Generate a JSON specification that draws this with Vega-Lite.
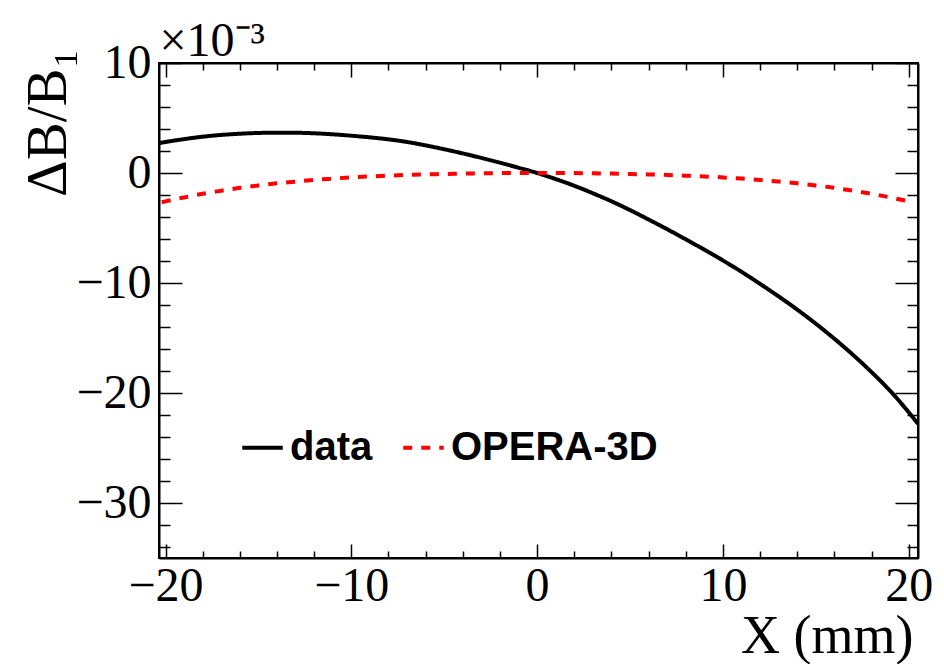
{
  "$schema": "https://vega.github.io/schema/vega-lite/v6.json",
  "width": 759,
  "height": 495,
  "autosize": "none",
  "padding": {"left": 159, "top": 63, "right": 26, "bottom": 106},
  "background": "white",
  "config": {
    "view": {"stroke": "black", "strokeWidth": 2},
    "axis": {
      "grid": false,
      "domainColor": "black",
      "domainWidth": 2,
      "tickColor": "black",
      "tickWidth": 1.5,
      "labelFont": "Liberation Serif",
      "labelFontSize": 48,
      "labelColor": "black",
      "labelFlush": false,
      "labelOverlap": false,
      "titleFont": "Liberation Serif",
      "titleFontSize": 57,
      "titleFontWeight": "normal",
      "titleColor": "black"
    },
    "legend": {
      "orient": "none",
      "legendX": 81,
      "legendY": 362,
      "direction": "horizontal",
      "padding": 0,
      "labelFont": "Liberation Sans",
      "labelFontSize": 40,
      "labelFontWeight": "bold",
      "labelColor": "black",
      "labelLimit": 400,
      "symbolType": "stroke",
      "symbolSize": 1640,
      "symbolStrokeWidth": 4,
      "labelOffset": 5,
      "columnPadding": 22
    }
  },
  "layer": [
    {
      "data": {"values": [
        {"x": -20.35, "y": 2.72, "series": "data"},
        {"x": -20, "y": 2.82, "series": "data"},
        {"x": -19, "y": 3.08, "series": "data"},
        {"x": -18, "y": 3.30, "series": "data"},
        {"x": -17, "y": 3.46, "series": "data"},
        {"x": -16, "y": 3.57, "series": "data"},
        {"x": -15, "y": 3.64, "series": "data"},
        {"x": -14, "y": 3.67, "series": "data"},
        {"x": -13, "y": 3.66, "series": "data"},
        {"x": -12, "y": 3.61, "series": "data"},
        {"x": -11, "y": 3.52, "series": "data"},
        {"x": -10, "y": 3.39, "series": "data"},
        {"x": -9, "y": 3.24, "series": "data"},
        {"x": -8, "y": 3.06, "series": "data"},
        {"x": -7, "y": 2.82, "series": "data"},
        {"x": -6, "y": 2.51, "series": "data"},
        {"x": -5, "y": 2.16, "series": "data"},
        {"x": -4, "y": 1.78, "series": "data"},
        {"x": -3, "y": 1.37, "series": "data"},
        {"x": -2, "y": 0.94, "series": "data"},
        {"x": -1, "y": 0.48, "series": "data"},
        {"x": 0, "y": 0.0, "series": "data"},
        {"x": 1, "y": -0.55, "series": "data"},
        {"x": 2, "y": -1.16, "series": "data"},
        {"x": 3, "y": -1.84, "series": "data"},
        {"x": 4, "y": -2.57, "series": "data"},
        {"x": 5, "y": -3.37, "series": "data"},
        {"x": 6, "y": -4.23, "series": "data"},
        {"x": 7, "y": -5.11, "series": "data"},
        {"x": 8, "y": -6.03, "series": "data"},
        {"x": 9, "y": -6.97, "series": "data"},
        {"x": 10, "y": -7.95, "series": "data"},
        {"x": 11, "y": -8.98, "series": "data"},
        {"x": 12, "y": -10.08, "series": "data"},
        {"x": 13, "y": -11.22, "series": "data"},
        {"x": 14, "y": -12.42, "series": "data"},
        {"x": 15, "y": -13.70, "series": "data"},
        {"x": 16, "y": -15.07, "series": "data"},
        {"x": 17, "y": -16.53, "series": "data"},
        {"x": 18, "y": -18.10, "series": "data"},
        {"x": 19, "y": -19.80, "series": "data"},
        {"x": 20, "y": -21.75, "series": "data"},
        {"x": 20.5, "y": -22.8, "series": "data"}
      ]},
      "mark": {"type": "line", "strokeWidth": 4, "interpolate": "monotone", "clip": true},
      "encoding": {
        "x": {
          "field": "x", "type": "quantitative",
          "scale": {"domain": [-20.35, 20.5], "nice": false, "zero": false},
          "axis": {
            "orient": "bottom",
            "values": [-20, -18, -16, -14, -12, -10, -8, -6, -4, -2, 0, 2, 4, 6, 8, 10, 12, 14, 16, 18, 20],
            "tickSize": {"condition": {"test": "datum.value % 10 === 0", "value": -14}, "value": -7},
            "labelExpr": "datum.value % 10 === 0 ? datum.label : ''",
            "labelPadding": 18,
            "title": "X (mm)",
            "titleFontSize": 54,
            "titleAnchor": null,
            "titleAlign": "right",
            "titleBaseline": "alphabetic",
            "titleX": 754,
            "titleY": 94
          }
        },
        "y": {
          "field": "y", "type": "quantitative",
          "scale": {"domain": [-35, 10], "nice": false, "zero": false},
          "axis": {
            "orient": "left",
            "values": [-34, -32, -30, -28, -26, -24, -22, -20, -18, -16, -14, -12, -10, -8, -6, -4, -2, 0, 2, 4, 6, 8, 10],
            "tickSize": {"condition": {"test": "datum.value % 10 === 0", "value": -23}, "value": -11},
            "labelExpr": "datum.value % 10 === 0 ? datum.label : ''",
            "labelPadding": 31,
            "title": "ΔB/B₁",
            "titleAnchor": null,
            "titleAngle": 270,
            "titleAlign": "right",
            "titleBaseline": "alphabetic",
            "titleX": -94,
            "titleY": -15
          }
        },
        "color": {
          "field": "series", "type": "nominal",
          "scale": {"domain": ["data", "OPERA-3D"], "range": ["#000000", "#ff0000"]},
          "legend": {"title": null}
        },
        "strokeDash": {
          "field": "series", "type": "nominal",
          "scale": {"domain": ["data", "OPERA-3D"], "range": [[1, 0], [9, 9]]},
          "legend": {"title": null}
        }
      }
    },
    {
      "data": {"values": [
        {"x": -20.2, "y": -2.66, "series": "OPERA-3D"},
        {"x": -20, "y": -2.58, "series": "OPERA-3D"},
        {"x": -19, "y": -2.22, "series": "OPERA-3D"},
        {"x": -18, "y": -1.89, "series": "OPERA-3D"},
        {"x": -17, "y": -1.61, "series": "OPERA-3D"},
        {"x": -16, "y": -1.35, "series": "OPERA-3D"},
        {"x": -15, "y": -1.13, "series": "OPERA-3D"},
        {"x": -14, "y": -0.94, "series": "OPERA-3D"},
        {"x": -13, "y": -0.78, "series": "OPERA-3D"},
        {"x": -12, "y": -0.63, "series": "OPERA-3D"},
        {"x": -11, "y": -0.51, "series": "OPERA-3D"},
        {"x": -10, "y": -0.40, "series": "OPERA-3D"},
        {"x": -9, "y": -0.31, "series": "OPERA-3D"},
        {"x": -8, "y": -0.24, "series": "OPERA-3D"},
        {"x": -7, "y": -0.18, "series": "OPERA-3D"},
        {"x": -6, "y": -0.13, "series": "OPERA-3D"},
        {"x": -5, "y": -0.09, "series": "OPERA-3D"},
        {"x": -4, "y": -0.05, "series": "OPERA-3D"},
        {"x": -3, "y": -0.03, "series": "OPERA-3D"},
        {"x": -2, "y": -0.01, "series": "OPERA-3D"},
        {"x": -1, "y": 0.0, "series": "OPERA-3D"},
        {"x": 0, "y": 0.0, "series": "OPERA-3D"},
        {"x": 1, "y": 0.0, "series": "OPERA-3D"},
        {"x": 2, "y": -0.01, "series": "OPERA-3D"},
        {"x": 3, "y": -0.03, "series": "OPERA-3D"},
        {"x": 4, "y": -0.05, "series": "OPERA-3D"},
        {"x": 5, "y": -0.09, "series": "OPERA-3D"},
        {"x": 6, "y": -0.13, "series": "OPERA-3D"},
        {"x": 7, "y": -0.18, "series": "OPERA-3D"},
        {"x": 8, "y": -0.24, "series": "OPERA-3D"},
        {"x": 9, "y": -0.31, "series": "OPERA-3D"},
        {"x": 10, "y": -0.40, "series": "OPERA-3D"},
        {"x": 11, "y": -0.51, "series": "OPERA-3D"},
        {"x": 12, "y": -0.63, "series": "OPERA-3D"},
        {"x": 13, "y": -0.78, "series": "OPERA-3D"},
        {"x": 14, "y": -0.94, "series": "OPERA-3D"},
        {"x": 15, "y": -1.13, "series": "OPERA-3D"},
        {"x": 16, "y": -1.35, "series": "OPERA-3D"},
        {"x": 17, "y": -1.61, "series": "OPERA-3D"},
        {"x": 18, "y": -1.89, "series": "OPERA-3D"},
        {"x": 19, "y": -2.22, "series": "OPERA-3D"},
        {"x": 19.9, "y": -2.54, "series": "OPERA-3D"}
      ]},
      "mark": {"type": "line", "strokeWidth": 4, "interpolate": "monotone", "clip": true},
      "encoding": {
        "x": {
          "field": "x", "type": "quantitative",
          "scale": {"domain": [-20.35, 20.5], "nice": false, "zero": false},
          "axis": {
            "orient": "top",
            "values": [-20, -18, -16, -14, -12, -10, -8, -6, -4, -2, 0, 2, 4, 6, 8, 10, 12, 14, 16, 18, 20],
            "tickSize": {"condition": {"test": "datum.value % 10 === 0", "value": -14}, "value": -7},
            "labels": false,
            "title": "×10⁻³",
            "titleFontSize": 48,
            "titleAnchor": null,
            "titleAlign": "left",
            "titleBaseline": "alphabetic",
            "titleX": 0,
            "titleY": -8
          }
        },
        "y": {
          "field": "y", "type": "quantitative",
          "scale": {"domain": [-35, 10], "nice": false, "zero": false},
          "axis": {
            "orient": "right",
            "values": [-34, -32, -30, -28, -26, -24, -22, -20, -18, -16, -14, -12, -10, -8, -6, -4, -2, 0, 2, 4, 6, 8, 10],
            "tickSize": {"condition": {"test": "datum.value % 10 === 0", "value": -23}, "value": -11},
            "labels": false,
            "title": null
          }
        },
        "color": {
          "field": "series", "type": "nominal",
          "scale": {"domain": ["data", "OPERA-3D"], "range": ["#000000", "#ff0000"]},
          "legend": {"title": null}
        },
        "strokeDash": {
          "field": "series", "type": "nominal",
          "scale": {"domain": ["data", "OPERA-3D"], "range": [[1, 0], [9, 9]]},
          "legend": {"title": null}
        }
      }
    }
  ],
  "resolve": {"axis": {"x": "independent", "y": "independent"}}
}
